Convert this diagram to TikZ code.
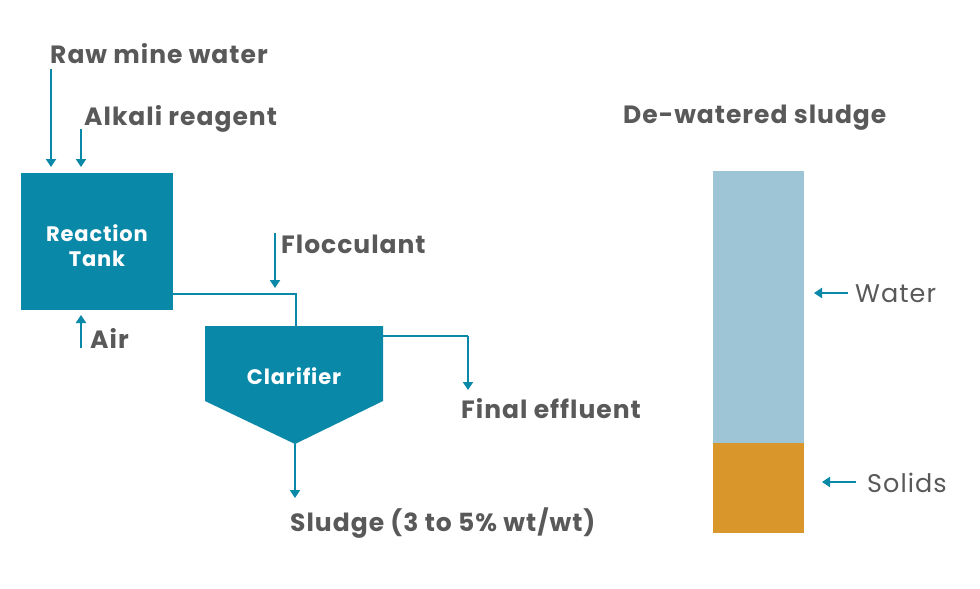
\documentclass[tikz,border=0pt]{standalone}
\usepackage{fontspec}
\setmainfont{Poppins}[LetterSpace=4]
\usetikzlibrary{arrows.meta}
\definecolor{teal}{RGB}{10,136,168}
\definecolor{txt}{RGB}{89,89,89}
\definecolor{waterc}{RGB}{157,197,213}
\definecolor{solidc}{RGB}{217,150,43}
\tikzset{
  lbl/.style={anchor=base west, inner sep=0pt, text=txt, font=\bfseries\fontsize{25}{29}\selectfont},
  lbllight/.style={anchor=base west, inner sep=0pt, text=txt, font=\fontsize{25.5}{30}\selectfont},
  inlbl/.style={inner sep=0pt, text=white, font=\bfseries\fontsize{21}{28}\selectfont, align=center},
  pipe/.style={draw=teal, line width=2.3pt},
  arr/.style={draw=teal, line width=2.4pt, -{Triangle[width=10pt,length=8pt]}},
  tankbox/.style={fill=teal, draw=none, minimum width=152pt, minimum height=137pt, inner sep=0pt},
}
\begin{document}
\begin{tikzpicture}[x=1pt,y=-1pt]
\useasboundingbox (0,0) rectangle (980,589);
% reaction tank
\node[tankbox] (rt) at (97,241.5) {};
\node[inlbl] (rttxt) at (97,246) {Reaction\\[-3pt]Tank};
% clarifier
\fill[teal] (205,326) -- (383,326) -- (383,401) -- (295,444) -- (205,401) -- cycle;
\coordinate (cltop) at (296,326);
\coordinate (clright) at (383,336);
\coordinate (clbot) at (295,444);
\node[inlbl] (cl) at (294,376) {Clarifier};
% labels
\node[lbl] (raw) at (50,63) {Raw mine water};
\node[lbl] (alk) at (84,125) {Alkali reagent};
\node[lbl] (air) at (90,348) {Air};
\node[lbl] (floc) at (281,253) {Flocculant};
\node[lbl] (eff) at (461,418) {Final effluent};
\node[lbl] (sl) at (290,531) {Sludge (3 to 5\% wt/wt)};
\node[lbl] (dw) at (623,123) {De-watered sludge};
\node[lbllight] (wt) at (855,302) {Water};
\node[lbllight] (so) at (867,492) {Solids};
% arrow coordinates
\coordinate (rawS) at (51,69);   \coordinate (rawE) at (51,167);
\coordinate (alkS) at (81,129);  \coordinate (alkE) at (81,167);
\coordinate (airS) at (81,348);  \coordinate (airE) at (81,315);
\coordinate (flocS) at (275,233); \coordinate (flocE) at (275,288);
\coordinate (junc) at (296,294);
\coordinate (effC) at (468,336); \coordinate (effE) at (468,390);
\coordinate (slE) at (295,498);
\draw[arr] (rawS) -- (rawE);
\draw[arr] (alkS) -- (alkE);
\draw[arr] (airS) -- (airE);
\draw[arr] (flocS) -- (flocE);
\draw[pipe] (rt.east |- junc) -- (junc) -- (cltop);
\draw[pipe] (clright) -- (effC);
\draw[arr] (effC) -- (effE);
\draw[arr] (clbot) -- (slE);
% de-watered sludge bar
\fill[waterc] (713,171) rectangle (804,443);
\fill[solidc] (713,443) rectangle (804,533);
\coordinate (wS) at (848,293); \coordinate (wE) at (814,293);
\coordinate (sS) at (856,482); \coordinate (sE) at (822,482);
\draw[arr] (wS) -- (wE);
\draw[arr] (sS) -- (sE);
\end{tikzpicture}
\end{document}
